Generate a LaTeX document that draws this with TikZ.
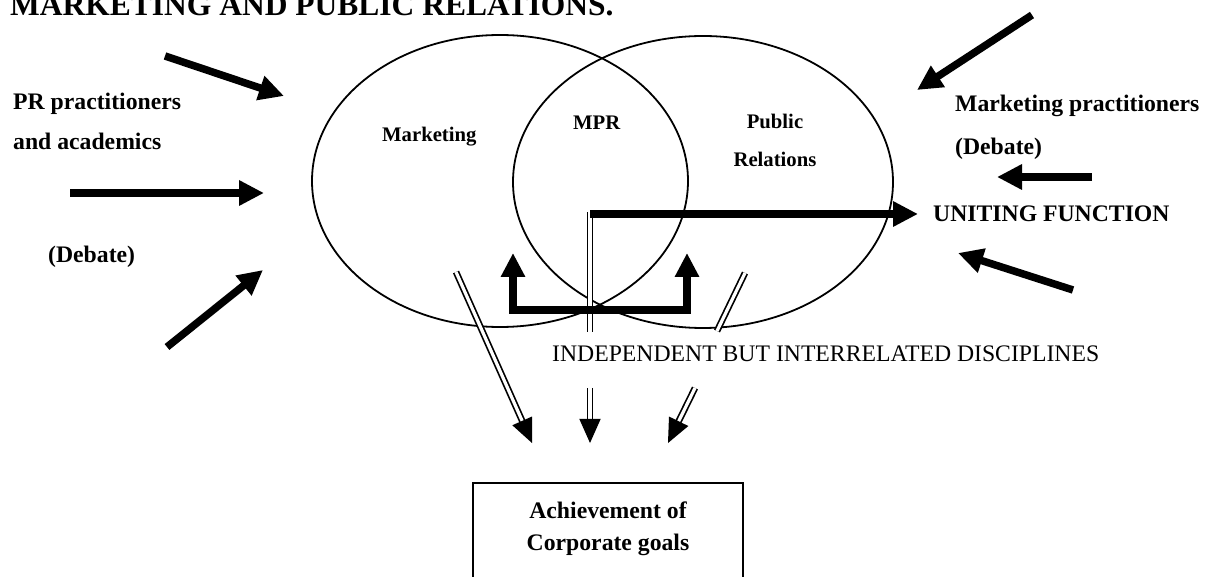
\documentclass[tikz,border=0pt]{standalone}
\usepackage{fontspec}
\setmainfont{Liberation Serif}
\usetikzlibrary{arrows.meta,shapes.geometric,calc}
\newcommand\dblarrow[2]{%
  \draw[dbl,shorten >=20pt] (#1) -- (#2);
  \fill ($(#2)!26.5pt!24:(#1)$) -- (#2) -- ($(#2)!26.5pt!-24:(#1)$) -- cycle;}
\begin{document}
\begin{tikzpicture}[x=1pt,y=-1pt,
  bigarrow/.style={line width=7.5pt,line cap=butt,-{Triangle[length=25pt,width=24pt]}},
  dbl/.style={double,double distance=3.2pt,line width=1.7pt,line cap=butt},
  circ/.style={ellipse,draw,line width=1.8pt,inner sep=0pt},
  lbl/.style={font=\fontsize{23.7pt}{28pt}\selectfont\bfseries,inner sep=0pt},
  inlbl/.style={font=\fontsize{20.7pt}{25pt}\selectfont\bfseries,inner sep=0pt},
  plainlbl/.style={font=\fontsize{23.7pt}{28pt}\selectfont,inner sep=0pt}]
\useasboundingbox (0,0) rectangle (1211,577);
\fill[white] (0,0) rectangle (1211,577);

% title (cut off at the top, as in the reference)
\node[anchor=base west,font=\fontsize{31.5pt}{36pt}\selectfont\bfseries,inner sep=0pt] (title) at (10,16) {MARKETING AND PUBLIC RELATIONS.};

% ellipses
\node[circ,minimum width=376pt,minimum height=292pt] (mk) at (500,181) {};
\node[circ,minimum width=380pt,minimum height=292pt] (pr) at (703,182) {};

% labels inside
\node[inlbl,anchor=base west] (tmk) at (382,142) {Marketing};
\node[inlbl,anchor=base west] (tmpr) at (573,130) {MPR};
\node[inlbl,anchor=base] (tpub) at (775,129) {Public};
\node[inlbl,anchor=base] (trel) at (775,167) {Relations};

% left labels
\node[lbl,anchor=base west] (prp) at (13,110) {PR practitioners};
\node[lbl,anchor=base west] (prp2) at (13,150) {and academics};
\node[lbl,anchor=base west] (deb1) at (48,263) {(Debate)};

% right labels
\node[lbl,anchor=base west] (mkp) at (955,112) {Marketing practitioners};
\node[lbl,anchor=base west] (deb2) at (955,155) {(Debate)};
\node[lbl,anchor=base west] (unit) at (933,222) {UNITING FUNCTION};

\node[plainlbl,anchor=base west] (indep) at (552,362) {INDEPENDENT BUT INTERRELATED DISCIPLINES};

% goal box (open at the bottom of the page)
\node[draw,line width=1.8pt,minimum width=270pt,minimum height=160pt,inner sep=0pt] (goal) at (608,563) {};
\node[lbl,anchor=base] (g1) at (608,518) {Achievement of};
\node[lbl,anchor=base] (g2) at (608,550) {Corporate goals};

% left arrows
\coordinate (l1s) at (165,56);  \coordinate (l1e) at (284,96);
\coordinate (l2s) at (70,193);  \coordinate (l2e) at (264,193);
\coordinate (l3s) at (167,347); \coordinate (l3e) at (263,270);
\draw[bigarrow] (l1s) -- (l1e);
\draw[bigarrow] (l2s) -- (l2e);
\draw[bigarrow] (l3s) -- (l3e);

% right arrows
\coordinate (r1s) at (1032,15);  \coordinate (r1e) at (917,90);
\coordinate (r2s) at (1092,177); \coordinate (r2e) at (997,177);
\coordinate (r3s) at (1073,290); \coordinate (r3e) at (958,253);
\draw[bigarrow] (r1s) -- (r1e);
\draw[bigarrow] (r2s) -- (r2e);
\draw[bigarrow] (r3s) -- (r3e);

% uniting function connector
\coordinate (vtop) at (590,212);
\coordinate (vbot) at (590,332);
\coordinate (uh) at (590,214);
\coordinate (ut) at (918,214);
\draw[dbl] (vtop) -- (vbot);
\draw[bigarrow] (uh) -- (ut);

% U-shaped double arrow
\coordinate (ul) at (513,253);
\coordinate (ulc) at (513,310);
\coordinate (urc) at (687,310);
\coordinate (ur) at (687,253);
\draw[line width=7.5pt,line join=miter,{Triangle[length=24pt,width=23pt]}-{Triangle[length=24pt,width=23pt]}] (ul) -- (ulc) -- (urc) -- (ur);

% double-line arrows to the goals
\coordinate (d1s) at (456,272); \coordinate (d1e) at (532,443);
\coordinate (d2s) at (590,388); \coordinate (d2e) at (590,443);
\coordinate (d3a) at (745,273); \coordinate (d3b) at (717,331);
\coordinate (d3s) at (695,388); \coordinate (d3e) at (668,443);
\dblarrow{d1s}{d1e}
\dblarrow{d2s}{d2e}
\draw[dbl] (d3a) -- (d3b);
\dblarrow{d3s}{d3e}
\end{tikzpicture}
\end{document}
